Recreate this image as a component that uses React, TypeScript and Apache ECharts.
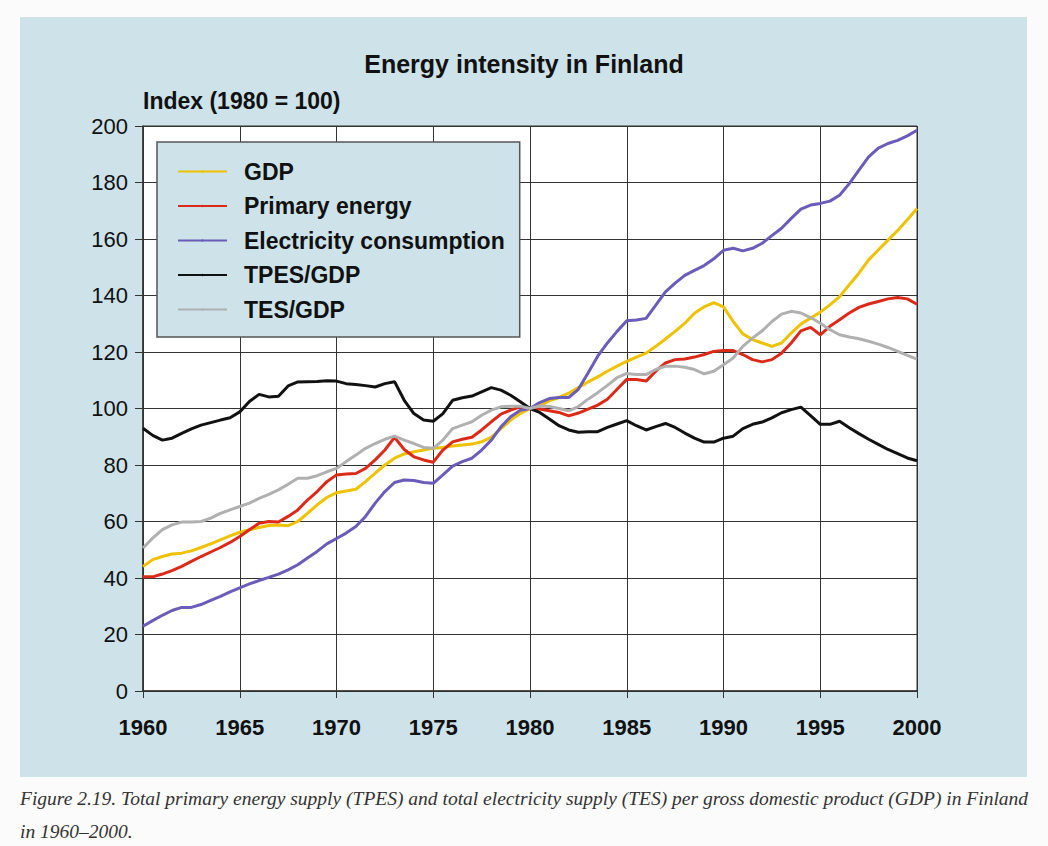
import React, { useEffect, useRef } from "react";
import * as echarts from "echarts";

const years = [
  1960, 1960.5, 1961, 1961.5, 1962, 1962.5, 1963, 1963.5, 1964, 1964.5,
  1965, 1965.5, 1966, 1966.5, 1967, 1967.5, 1968, 1968.5, 1969, 1969.5,
  1970, 1970.5, 1971, 1971.5, 1972, 1972.5, 1973, 1973.5, 1974, 1974.5,
  1975, 1975.5, 1976, 1976.5, 1977, 1977.5, 1978, 1978.5, 1979, 1979.5,
  1980, 1980.5, 1981, 1981.5, 1982, 1982.5, 1983, 1983.5, 1984, 1984.5,
  1985, 1985.5, 1986, 1986.5, 1987, 1987.5, 1988, 1988.5, 1989, 1989.5,
  1990, 1990.5, 1991, 1991.5, 1992, 1992.5, 1993, 1993.5, 1994, 1994.5,
  1995, 1995.5, 1996, 1996.5, 1997, 1997.5, 1998, 1998.5, 1999, 1999.5,
  2000,
];

const gdp = [
  44.1, 46.5, 47.6, 48.5, 48.8, 49.6, 50.8, 52.1, 53.5, 54.9,
  56.2, 57.1, 57.9, 58.6, 58.8, 58.5, 60, 62.9, 65.9, 68.5,
  70.2, 70.8, 71.4, 74.1, 77.1, 80, 82.4, 83.9, 84.7, 85.3,
  85.9, 86.2, 86.7, 87.1, 87.4, 88.2, 89.8, 92.9, 95.9, 98.2,
  100, 100.9, 102.7, 103.9, 105.4, 107.4, 109.4, 111.2, 113.2, 115,
  116.7, 118.2, 119.6, 122, 124.6, 127.3, 130.2, 133.7, 136, 137.5,
  136, 130.8, 126.4, 124.4, 123.2, 122, 123.2, 126.7, 129.9, 132,
  134.1, 136.7, 139.6, 143.8, 147.9, 152.6, 156.1, 159.6, 163, 166.8,
  170.8,
];

const primaryEnergy = [
  40.4, 40.4, 41.4, 42.6, 44.1, 45.9, 47.6, 49.2, 50.8, 52.6,
  54.7, 57.1, 59.4, 60, 59.8, 61.8, 64.1, 67.6, 70.6, 74.1,
  76.5, 76.8, 77, 78.8, 81.8, 85.3, 89.8, 85.5, 82.9, 81.8,
  81, 85.3, 88.2, 89.1, 89.8, 92.4, 95.3, 98, 99.4, 100.6,
  100, 99.8, 99.2, 98.6, 97.4, 98.4, 99.8, 101.2, 103.3, 106.8,
  110.3, 110.3, 109.7, 113.2, 116.1, 117.3, 117.5, 118.2, 119.1, 120.2,
  120.5, 120.5, 119.1, 117.3, 116.5, 117.3, 119.6, 123.2, 127.5, 128.7,
  126.1, 129.1, 131.4, 133.8, 135.8, 137, 137.9, 138.8, 139.3, 138.8,
  136.9,
];

const electricity = [
  22.9, 24.9, 26.8, 28.5, 29.6, 29.6, 30.6, 32.1, 33.5, 35.1,
  36.5, 37.9, 39.1, 40.2, 41.4, 42.9, 44.7, 47.1, 49.4, 52.1,
  54, 55.9, 58.2, 61.8, 66.5, 70.6, 73.8, 74.7, 74.5, 73.8,
  73.5, 76.5, 79.6, 81.2, 82.4, 85.3, 88.8, 93.5, 97.1, 99.4,
  100, 102.1, 103.5, 103.9, 103.9, 106.8, 112.6, 118.5, 123.2, 127.3,
  131.1, 131.3, 131.9, 136.6, 141.3, 144.4, 147.1, 148.9, 150.6, 153,
  156, 156.7, 155.8, 156.7, 158.5, 161.2, 163.8, 167.3, 170.6, 172,
  172.6, 173.4, 175.5, 179.6, 184.4, 189.1, 192.2, 193.8, 194.9, 196.5,
  198.5,
];

const tpesGdp = [
  93, 90.5, 88.8, 89.5, 91.2, 92.8, 94.1, 95, 95.9, 96.7,
  98.8, 102.5, 105, 104.1, 104.3, 108, 109.4, 109.5, 109.6, 109.8,
  109.7, 108.8, 108.5, 108.1, 107.6, 108.8, 109.5, 102.9, 98.2, 95.9,
  95.5, 98.2, 102.9, 103.8, 104.4, 105.9, 107.4, 106.5, 104.7, 102.4,
  100, 98.6, 96.3, 93.9, 92.4, 91.6, 91.8, 91.8, 93.3, 94.5,
  95.7, 93.9, 92.4, 93.6, 94.7, 93.3, 91.3, 89.5, 88.1, 88.1,
  89.5, 90.2, 92.9, 94.4, 95.2, 96.7, 98.5, 99.6, 100.5, 97.5,
  94.4, 94.4, 95.5, 93.2, 91.1, 89.1, 87.3, 85.5, 84, 82.5,
  81.5,
];

const tesGdp = [
  50.6, 54.1, 57.1, 58.8, 59.8, 59.8, 60, 61.2, 62.9, 64.1,
  65.3, 66.5, 68.2, 69.6, 71.2, 73.2, 75.3, 75.3, 76.2, 77.6,
  78.8, 81.2, 83.5, 85.9, 87.6, 89.1, 90.2, 88.8, 87.6, 86.2,
  85.9, 88.8, 92.9, 94.1, 95.3, 97.6, 99.4, 100.6, 100.8, 100.8,
  100, 100.9, 100.7, 100, 99.2, 100.7, 103.3, 105.6, 108.2, 110.9,
  112.4, 112, 112, 113.8, 115, 115, 114.6, 113.8, 112.3, 113.2,
  115.5, 117.9, 122, 124.9, 127.5, 130.8, 133.4, 134.4, 133.8, 132.2,
  130.2, 127.9, 126.1, 125.3, 124.7, 123.8, 122.8, 121.6, 120.2, 118.8,
  117.5,
];

const seriesNames = ["GDP", "Primary energy", "Electricity consumption", "TPES/GDP", "TES/GDP"];
const seriesValues = [gdp, primaryEnergy, electricity, tpesGdp, tesGdp];
const seriesColors = ["#eec200", "#dc2a18", "#6a5cb8", "#111111", "#b0b0b0"];

const titleText = "Energy intensity in Finland";
const yAxisTitle = "Index (1980 = 100)";
const captionLine1 =
  "Figure 2.19. Total primary energy supply (TPES) and total electricity supply (TES) per gross domestic product (GDP) in Finland";
const captionLine2 = "in 1960–2000.";

const SANS = "'Liberation Sans', Arial, Helvetica, sans-serif";
const SERIF = "'Liberation Serif', 'DejaVu Serif', serif";
const PANEL = "#cde3e9";
const GRIDC = "#333333";

export default function App() {
  const ref = useRef<HTMLDivElement>(null);
  useEffect(() => {
    if (!ref.current) return;
    const chart = echarts.init(ref.current, undefined, { renderer: "svg" });
    chart.setOption({
      animation: false,
      backgroundColor: "#fbfbfb",
      title: {
        text: titleText,
        left: "center",
        top: 46,
        textStyle: { fontFamily: SANS, fontSize: 25, fontWeight: "bold", color: "#111" },
      },
      graphic: [
        {
          type: "rect",
          z: -10,
          shape: { x: 20, y: 17, width: 1007, height: 760 },
          style: { fill: PANEL },
          silent: true,
        },
        {
          type: "text",
          left: 20,
          top: 788,
          style: {
            text: captionLine1,
            fontFamily: SERIF,
            fontStyle: "italic",
            fontSize: 19.5,
            fill: "#333",
          },
        },
        {
          type: "text",
          left: 20,
          top: 821,
          style: {
            text: captionLine2,
            fontFamily: SERIF,
            fontStyle: "italic",
            fontSize: 19.5,
            fill: "#333",
          },
        },
      ],
      legend: {
        orient: "vertical",
        left: 157,
        top: 142,
        itemWidth: 49,
        itemHeight: 3,
        itemGap: 7.5,
        padding: [16, 15, 14, 20],
        backgroundColor: PANEL,
        borderColor: "#555",
        borderWidth: 1.5,
        textStyle: {
          fontFamily: SANS,
          fontSize: 23,
          fontWeight: "bold",
          color: "#111",
          lineHeight: 27,
          padding: [0, 0, 0, 12],
        },
        data: seriesNames,
      },
      grid: {
        left: 143,
        right: 131,
        top: 126,
        bottom: 155,
        show: true,
        backgroundColor: "#ffffff",
        borderColor: GRIDC,
        borderWidth: 1,
      },
      xAxis: {
        type: "value",
        min: 1960,
        max: 2000,
        interval: 5,
        axisLine: { show: true, lineStyle: { color: GRIDC, width: 1.5 } },
        axisTick: { show: true, length: 7, lineStyle: { color: GRIDC } },
        axisLabel: {
          fontFamily: SANS,
          fontSize: 22,
          fontWeight: "bold",
          color: "#111",
          margin: 25,
          formatter: (v: number) => String(v),
        },
        splitLine: { show: true, lineStyle: { color: GRIDC, width: 1 } },
      },
      yAxis: {
        type: "value",
        min: 0,
        max: 200,
        interval: 20,
        name: yAxisTitle,
        nameLocation: "end",
        nameGap: 25,
        nameTextStyle: {
          fontFamily: SANS,
          fontSize: 23,
          fontWeight: "bold",
          color: "#111",
          align: "left",
          verticalAlign: "middle",
        },
        axisLine: { show: true, lineStyle: { color: GRIDC, width: 1.5 } },
        axisTick: { show: true, length: 8, lineStyle: { color: GRIDC } },
        axisLabel: {
          fontFamily: SANS,
          fontSize: 22,
          color: "#111",
          margin: 15,
        },
        splitLine: { show: true, lineStyle: { color: GRIDC, width: 1 } },
      },
      series: seriesNames.map((name, i) => ({
        name,
        type: "line",
        symbol: "none",
        showSymbol: false,
        color: seriesColors[i],
        lineStyle: { color: seriesColors[i], width: 3 },
        data: years.map((y, j) => [y, seriesValues[i][j]]),
      })),
    });
    return () => chart.dispose();
  }, []);
  return (
    <div
      ref={ref}
      style={{ position: "absolute", left: 0, top: 0, width: 1048, height: 846 }}
    />
  );
}
